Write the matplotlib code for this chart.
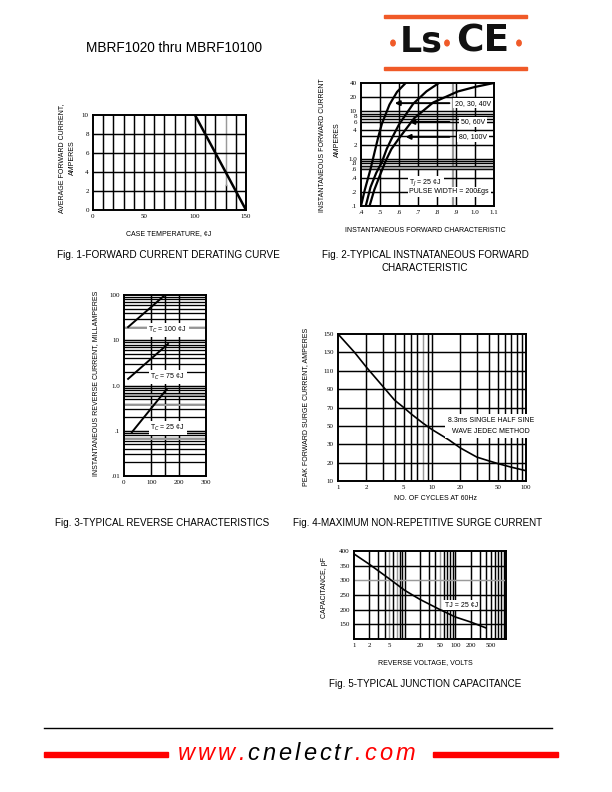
import numpy as np
import matplotlib
matplotlib.use("Agg")
import matplotlib.pyplot as plt
from matplotlib.patches import Rectangle, Circle

W, H = 612, 792
SANS = "Liberation Sans"
SERIF = "Liberation Serif"
GRAY = "#9a9a9a"
RED = "#ff0000"
LOGO_RED = "#f05a28"
GLW = 1.05  # grid line width

# Fig. 1 - forward current derating
f1_temp = [100, 150]
f1_amps = [10, 0]
f1_xticks = [0, 50, 100, 150]
f1_yticks = [0, 2, 4, 6, 8, 10]
f1_vgrid = list(range(10, 150, 10))
f1_hgrid = [2, 4, 6, 8]

# Fig. 2 - forward characteristic (volts, amps)
f2_v_a = [0.40, 0.42, 0.45, 0.47, 0.49, 0.51, 0.55, 0.59, 0.635]
f2_i_a = [0.1, 0.22, 0.6, 1.3, 2.8, 5.5, 14, 26, 40]
f2_v_b = [0.425, 0.45, 0.48, 0.51, 0.535, 0.56, 0.60, 0.675, 0.745, 0.81]
f2_i_b = [0.1, 0.25, 0.5, 0.85, 1.6, 2.6, 5.3, 14.6, 26.7, 40]
f2_v_c = [0.445, 0.47, 0.50, 0.53, 0.56, 0.60, 0.68, 0.78, 0.91, 1.0, 1.1]
f2_i_c = [0.1, 0.22, 0.45, 0.9, 1.6, 2.7, 7.2, 15.5, 26.5, 33, 40]
f2_xticks = [0.4, 0.5, 0.6, 0.7, 0.8, 0.9, 1.0, 1.1]
f2_xlabels = [".4", ".5", ".6", ".7", ".8", ".9", "1.0", "1.1"]
f2_yticks = [0.1, 0.2, 0.4, 0.6, 0.8, 1, 2, 4, 6, 8, 10, 20, 40]
f2_ylabels = [".1", ".2", ".4", ".6", ".8", "1.0", "2", "4", "6", "8", "10", "20", "40"]
f2_hgrid = [0.2, 0.4, 0.6, 0.7, 0.8, 0.9, 1, 2, 3, 4, 6, 7, 8, 9, 10, 20]
f2_vgrid = [0.5, 0.6, 0.7, 0.8, 0.9, 1.0]
f2_series = ["20, 30, 40V", "50, 60V", "80, 100V"]
f2_label_amps = [15, 6, 2.9]
f2_arrow_tip = [0.563, 0.64, 0.62]

# Fig. 3 - reverse characteristic (volts, mA)
f3_v_100 = [15, 150]
f3_i_100 = [19.6, 100]
f3_v_75 = [15, 161]
f3_i_75 = [1.4, 8.3]
f3_v_25 = [29, 157]
f3_i_25 = [0.093, 0.84]
f3_labels = ["T$_C$ = 100 \u00a2J", "T$_C$ = 75 \u00a2J", "T$_C$ = 25 \u00a2J"]
f3_label_ma = [17, 1.54, 0.115]
f3_xticks = [0, 100, 200, 300]
f3_yticks = [0.01, 0.1, 1, 10, 100]
f3_ylabels = [".01", ".1", "1.0", "10", "100"]
f3_vgrid = [100, 150, 200]

# Fig. 4 - surge current
f4_cycles = [1, 1.5, 2, 3, 4, 5, 6, 8, 10, 15, 20, 30, 40, 50, 70, 100]
f4_amps = [150, 130, 114, 93, 78, 70, 63, 53, 46, 35, 28, 23, 21, 19.5, 17.5, 15.6]
f4_yvals = [10, 20, 30, 50, 70, 90, 110, 130, 150]
f4_xticks = [1, 2, 5, 10, 20, 50, 100]
f4_vgrid = [2, 3, 4, 5, 6, 7, 8, 9, 10, 20, 30, 40, 50, 60, 70, 80, 90]

# Fig. 5 - junction capacitance
f5_volts = [1, 2, 5, 10, 20, 50, 100, 200, 400]
f5_pf = [390, 355, 305, 266, 235, 200, 175, 158, 138]
f5_xticks = [1, 2, 5, 20, 50, 100, 200, 500]
f5_yticks = [150, 200, 250, 300, 350, 400]
f5_vgrid = [2, 3, 4, 5, 6, 7, 8, 9, 10, 20, 30, 40, 50, 60, 70, 80, 90, 100,
            200, 300, 400, 500, 600, 700, 800, 900]

fig = plt.figure(figsize=(W / 100, H / 100), dpi=100)


def px(x, y):
    return x / W, 1 - y / H


def add_ax(x0, y0, x1, y1):
    ax = fig.add_axes([x0 / W, 1 - y1 / H, (x1 - x0) / W, (y1 - y0) / H])
    for s in ax.spines.values():
        s.set_linewidth(1.4)
    ax.tick_params(length=0, pad=3, labelsize=5)
    return ax


def style_ticks(ax):
    for lab in ax.get_xticklabels() + ax.get_yticklabels():
        lab.set_fontfamily(SERIF)
        lab.set_fontsize(5)


def ftext(x, y, s, size=5, **kw):
    fig.text(*px(x, y), s, fontsize=size, family=SANS, ha="center", va="center", **kw)


box = dict(fc="white", ec="none", pad=1.2)

# ---- header ----
ftext(174, 48, "MBRF1020 thru MBRF10100", size=9.8)
fig.patches.append(Rectangle(px(384, 18), 143 / W, 3 / H, color=LOGO_RED, transform=fig.transFigure))
fig.patches.append(Rectangle(px(384, 70), 143 / W, 3 / H, color=LOGO_RED, transform=fig.transFigure))
for cx in [393, 447, 519]:
    fig.patches.append(Circle(px(cx, 43), 2.2 / W, color=LOGO_RED, transform=fig.transFigure))
fig.text(*px(421, 42), "Ls", fontsize=25, weight="heavy", family="DejaVu Sans",
         ha="center", va="center", color="#111111")
fig.text(*px(483, 42), "CE", fontsize=27, weight="heavy", family="DejaVu Sans",
         ha="center", va="center", color="#111111")

# ---- Fig. 1 ----
ax1 = add_ax(93, 115, 246, 210)
ax1.set_xlim(0, 150)
ax1.set_ylim(0, 10)
for v in f1_vgrid:
    if v == 130:
        ax1.plot([v, v], [0, 2.6], color="black", lw=GLW)
        ax1.plot([v, v], [2.6, 10], color=GRAY, lw=GLW)
    else:
        ax1.axvline(v, color="black", lw=GLW)
for h in f1_hgrid:
    ax1.axhline(h, color="black", lw=GLW)
ax1.plot(f1_temp, f1_amps, color="black", lw=1.8)
ax1.set_xticks(f1_xticks)
ax1.set_yticks(f1_yticks)
style_ticks(ax1)
ftext(169, 234, "CASE TEMPERATURE, \u00a2J")
ftext(62, 158, "AVERAGE FORWARD CURRENT,", rotation=90)
ftext(72, 158, "AMPERES", rotation=90)
ftext(168, 255, "Fig. 1-FORWARD CURRENT DERATING CURVE", size=7.2)

# ---- Fig. 2 ----
ax2 = add_ax(361, 83, 494, 206)
ax2.set_yscale("log")
ax2.set_xlim(0.4, 1.1)
ax2.set_ylim(0.1, 40)
for v in f2_vgrid:
    ax2.axvline(v, color="black", lw=GLW)
ax2.axvline(0.885, color=GRAY, lw=1.6)
for h in f2_hgrid:
    ax2.axhline(h, color="black", lw=GLW)
ax2.axhline(0.63, color=GRAY, lw=1.6)
for v, i in [(f2_v_a, f2_i_a), (f2_v_b, f2_i_b), (f2_v_c, f2_i_c)]:
    ax2.plot(v, i, color="black", lw=1.6)
for name, amps, tip in zip(f2_series, f2_label_amps, f2_arrow_tip):
    ax2.annotate("", xy=(tip, amps), xytext=(0.88, amps),
                 arrowprops=dict(arrowstyle="-|>", color="black", lw=1.4, mutation_scale=7))
    ax2.text(0.99, amps, name, fontsize=5, family=SANS, ha="center", va="center", bbox=box)
ax2.text(0.655, 0.3, "T$_J$ = 25 \u00a2J", fontsize=5, family=SANS, ha="left", va="center", bbox=box)
ax2.text(0.655, 0.2, "PULSE WIDTH = 200\u00a3gs", fontsize=5, family=SANS, ha="left", va="center", bbox=box)
ax2.set_xticks(f2_xticks)
ax2.set_xticklabels(f2_xlabels)
ax2.set_yticks(f2_yticks)
ax2.set_yticklabels(f2_ylabels)
ax2.minorticks_off()
style_ticks(ax2)
ftext(425, 230, "INSTANTANEOUS FORWARD CHARACTERISTIC")
ftext(323, 145, "INSTANTANEOUS FORWARD CURRENT", rotation=90)
ftext(337, 140, "AMPERES", rotation=90)
ftext(425, 255, "Fig. 2-TYPICAL INSTNATANEOUS FORWARD", size=7.1)
ftext(425, 268, "CHARACTERISTIC", size=7.1)

# ---- Fig. 3 ----
ax3 = add_ax(124, 295, 206, 476)
ax3.set_yscale("log")
ax3.set_xlim(0, 300)
ax3.set_ylim(0.01, 100)
for v in f3_vgrid:
    ax3.axvline(v, color="black", lw=GLW)
for dec in [0.01, 0.1, 1, 10]:
    for m in range(2, 10):
        ax3.axhline(dec * m, color="black", lw=0.95)
    ax3.axhline(dec, color="black", lw=GLW)
for g in [19, 0.62, 0.37, 0.065]:
    ax3.axhline(g, color=GRAY, lw=1.4)
for v, i in [(f3_v_100, f3_i_100), (f3_v_75, f3_i_75), (f3_v_25, f3_i_25)]:
    ax3.plot(v, i, color="black", lw=1.4)
for lab, ma in zip(f3_labels, f3_label_ma):
    ax3.text(160, ma, lab, fontsize=5, family=SANS, ha="center", va="center", bbox=box)
ax3.set_xticks(f3_xticks)
ax3.set_yticks(f3_yticks)
ax3.set_yticklabels(f3_ylabels)
ax3.minorticks_off()
style_ticks(ax3)
ftext(96, 383, "INSTANTANEOUS REVERSE CURRENT, MILLAMPERES", rotation=90)
ftext(162, 523, "Fig. 3-TYPICAL REVERSE CHARACTERISTICS", size=7.1)

# ---- Fig. 4 ----
ax4 = add_ax(338, 334, 526, 481)
pos = np.arange(len(f4_yvals))
ax4.set_yscale("function", functions=(lambda v: np.interp(v, f4_yvals, pos),
                                      lambda p: np.interp(p, pos, f4_yvals)))
ax4.set_xscale("log")
ax4.set_xlim(1, 100)
ax4.set_ylim(10, 150)
for v in f4_vgrid:
    ax4.axvline(v, color=GRAY if v == 8 else "black", lw=GLW)
for h in f4_yvals[1:-1]:
    ax4.axhline(h, color="black", lw=GLW)
ax4.plot(f4_cycles, f4_amps, color="black", lw=1.2)
ax4.text(2 ** 0.5 * 30, 50, "8.3ms SINGLE HALF SINE\nWAVE JEDEC METHOD", fontsize=5,
         family=SANS, ha="center", va="center", linespacing=1.9,
         bbox=dict(fc="white", ec="none", pad=2))
ax4.set_xticks(f4_xticks)
ax4.set_xticklabels([str(t) for t in f4_xticks])
ax4.set_yticks(f4_yvals)
ax4.set_yticklabels([str(t) for t in f4_yvals])
ax4.minorticks_off()
style_ticks(ax4)
ftext(435, 499, "NO. OF CYCLES AT 60Hz")
ftext(306, 407, "PEAK FORWARD SURGE CURRENT, AMPERES", rotation=90)
ftext(418, 523, "Fig. 4-MAXIMUM NON-REPETITIVE SURGE CURRENT", size=7.1)

# ---- Fig. 5 ----
ax5 = add_ax(354, 551, 506, 639)
ax5.set_xscale("log")
ax5.set_xlim(1, 1000)
ax5.set_ylim(100, 400)
for v in f5_vgrid:
    ax5.axvline(v, color=GRAY if v in (5, 7, 50) else "black", lw=GLW)
for h in f5_yticks[:-1]:
    ax5.axhline(h, color=GRAY if h == 300 else "black", lw=GLW)
ax5.plot(f5_volts, f5_pf, color="black", lw=1.2)
ax5.text(130, 215, "TJ = 25 \u00a2J", fontsize=5, family=SANS, ha="center", va="center", bbox=box)
ax5.set_xticks(f5_xticks)
ax5.set_xticklabels([str(t) for t in f5_xticks])
ax5.set_yticks(f5_yticks)
ax5.minorticks_off()
style_ticks(ax5)
ftext(425, 663, "REVERSE VOLTAGE, VOLTS")
ftext(324, 588, "CAPACITANCE, pF", rotation=90)
ftext(425, 684, "Fig. 5-TYPICAL JUNCTION CAPACITANCE", size=7.1)

# ---- footer ----
fig.add_artist(plt.Line2D([44 / W, 552 / W], [1 - 728 / H] * 2, color="black", lw=1.0))
fig.patches.append(Rectangle(px(44, 757), 124 / W, 5 / H, color=RED, transform=fig.transFigure))
fig.patches.append(Rectangle(px(433, 757), 125 / W, 5 / H, color=RED, transform=fig.transFigure))
url = "www.cnelectr.com"
colors = [RED] * 4 + ["black"] * 8 + [RED] * 4
renderer = fig.canvas.get_renderer()
x = 178
for ch, c in zip(url, colors):
    t = fig.text(*px(x, 753), ch, fontsize=17, family=SANS, style="italic",
                 color=c, ha="left", va="center")
    x += t.get_window_extent(renderer).width + 3.0

fig.savefig("out.png", dpi=100)
